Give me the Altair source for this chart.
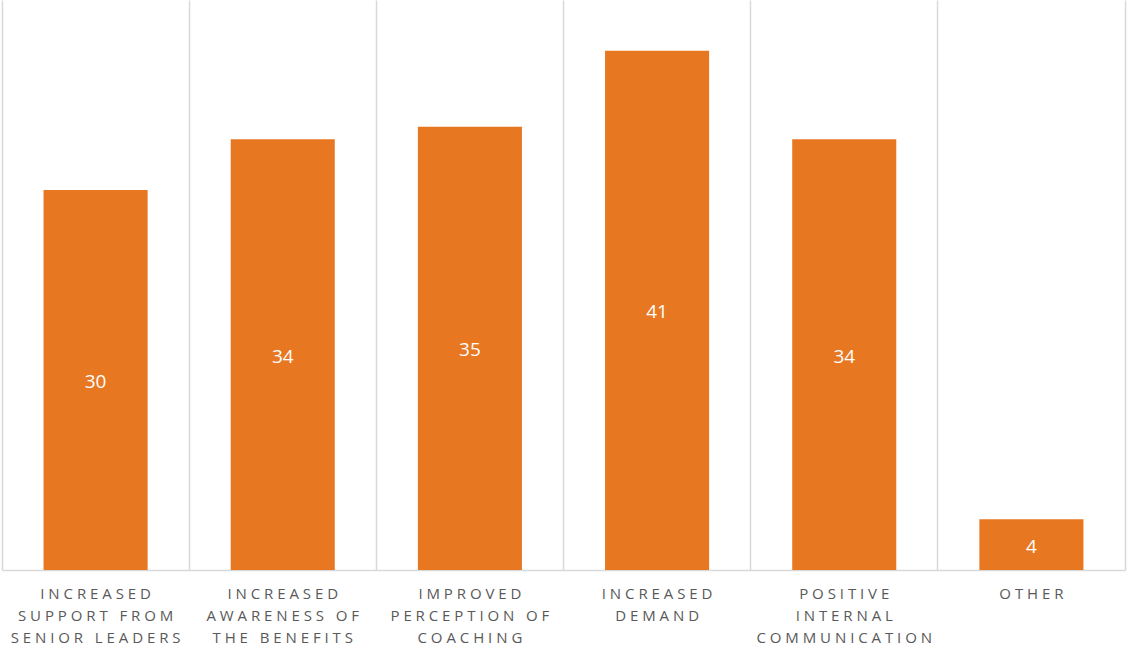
import altair as alt
import pandas as pd

categories = [
    "INCREASED|SUPPORT FROM|SENIOR LEADERS",
    "INCREASED|AWARENESS OF|THE BENEFITS",
    "IMPROVED|PERCEPTION OF|COACHING",
    "INCREASED|DEMAND",
    "POSITIVE|INTERNAL|COMMUNICATION",
    "OTHER",
]
values = [30, 34, 35, 41, 34, 4]

df = pd.DataFrame({"category": categories, "value": values})

GRID = "#d9d9d9"
ORANGE = "#E87722"
NB = "\u00a0"

label_expr = (
    "split(replace(join(split(datum.label, ''), '" + NB + "'), / /g, '" + NB + "'), '"
    + NB + "|" + NB + "')"
)

x = alt.X(
    "category:N",
    sort=categories,
    title=None,
    scale=alt.Scale(paddingInner=0, paddingOuter=0),
    axis=alt.Axis(
        bandPosition=0,
        grid=True,
        gridColor=GRID,
        gridWidth=1.5,
        ticks=False,
        domainColor=GRID,
        domainWidth=1.5,
        labelAngle=0,
        labelFont="Open Sans",
        labelFontSize=15,
        labelColor="#595959",
        labelPadding=16,
        labelLineHeight=22,
        labelBaseline="top",
        labelLimit=400,
        labelOverlap=False,
        labelExpr=label_expr,
    ),
)

y_scale = alt.Scale(domain=[0, 45], nice=False)

bars = alt.Chart(df).mark_bar(color=ORANGE, width=alt.RelativeBandSize(0.556)).encode(
    x=x,
    y=alt.Y(
        "value:Q",
        scale=y_scale,
        title=None,
        axis=alt.Axis(
            orient="right",
            labels=False,
            ticks=False,
            grid=False,
            domainColor=GRID,
            domainWidth=1.5,
        ),
    ),
)

text = alt.Chart(df).transform_calculate(mid="datum.value / 2").mark_text(
    color="white", font="Open Sans", fontSize=19, baseline="middle", align="center", dy=2
).encode(
    x=alt.X("category:N", sort=categories),
    y=alt.Y("mid:Q", scale=y_scale),
    text=alt.Text("value:Q"),
)

chart = (
    alt.layer(bars, text)
    .properties(
        width=1123,
        height=570,
        autosize=alt.AutoSizeParams(type="none"),
        padding={"left": 2, "top": 0, "right": 2, "bottom": 76},
        background="white",
    )
    .configure_view(stroke=None)
)

chart.save("out.html", embed_options={"renderer": "svg", "actions": False})
